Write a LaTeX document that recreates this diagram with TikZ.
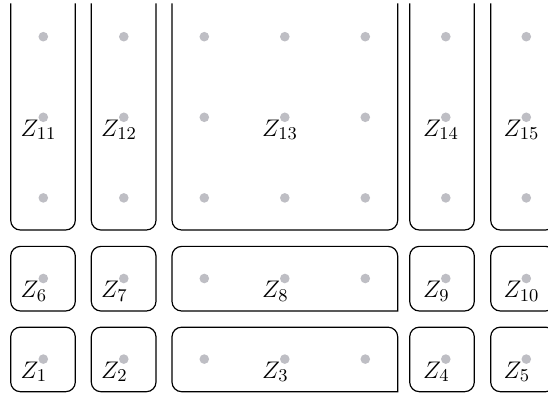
\documentclass[tikz,border=0pt]{standalone}
\definecolor{dotgray}{RGB}{190,190,196}
\DeclareMathSizes{11.6}{11.6}{9}{7}
\begin{document}
\begin{tikzpicture}[x=0.5pt,y=-0.5pt,
  boxline/.style={draw, line width=0.6pt, rounded corners=4.8pt, line cap=rect},
  zlabel/.style={anchor=base west, inner sep=0pt, font=\fontsize{11.6}{13}\selectfont}]
\useasboundingbox (0,0) rectangle (548,395);
\clip (0,0) rectangle (548,395);
% grid of dots
\foreach \i in {0,...,6}{
  \foreach \j in {0,...,4}{
    \fill[dotgray] ({43.3+80.5*\i},{36.7+80.6*\j}) circle[radius=2.4pt];
  }
}
% top row boxes (open at top)
\foreach \l/\r in {10.7/75.3, 91.3/156, 409.7/474.3, 490.7/555.3}{
  \draw[boxline] (\l,4) -- (\l,230) -- (\r,230) -- (\r,4);
}
\draw[boxline] (172,4) -- (172,230) -- (397.7,230) -- (397.7,4);
% middle and bottom small boxes
\foreach \l/\r in {10.7/75.3, 91.3/156, 409.7/474.3, 490.7/555.3}{
  \draw[boxline] (\l,246.4) rectangle (\r,311);
  \draw[boxline] (\l,327.2) rectangle (\r,391.7);
}
% wide boxes with square lower right corner
\draw[boxline] (397.7,311) -- (172,311) -- (172,246.4) -- (397.7,246.4) -- (397.7,311);
\draw[boxline] (397.7,391.7) -- (172,391.7) -- (172,327.2) -- (397.7,327.2) -- (397.7,391.7);
% labels
\node[zlabel] (z11) at ({43.3-23},{117.3+19}) {$Z_{11}$};
\node[zlabel] (z12) at ({123.8-23},{117.3+19}) {$Z_{12}$};
\node[zlabel] (z13) at ({284.8-23},{117.3+19}) {$Z_{13}$};
\node[zlabel] (z14) at ({445.8-23},{117.3+19}) {$Z_{14}$};
\node[zlabel] (z15) at ({526.3-23},{117.3+19}) {$Z_{15}$};
\node[zlabel] (z6) at ({43.3-23},{278.5+19}) {$Z_{6}$};
\node[zlabel] (z7) at ({123.8-23},{278.5+19}) {$Z_{7}$};
\node[zlabel] (z8) at ({284.8-23},{278.5+19}) {$Z_{8}$};
\node[zlabel] (z9) at ({445.8-23},{278.5+19}) {$Z_{9}$};
\node[zlabel] (z10) at ({526.3-23},{278.5+19}) {$Z_{10}$};
\node[zlabel] (z1) at ({43.3-23},{359.1+19}) {$Z_{1}$};
\node[zlabel] (z2) at ({123.8-23},{359.1+19}) {$Z_{2}$};
\node[zlabel] (z3) at ({284.8-23},{359.1+19}) {$Z_{3}$};
\node[zlabel] (z4) at ({445.8-23},{359.1+19}) {$Z_{4}$};
\node[zlabel] (z5) at ({526.3-23},{359.1+19}) {$Z_{5}$};
\end{tikzpicture}
\end{document}
